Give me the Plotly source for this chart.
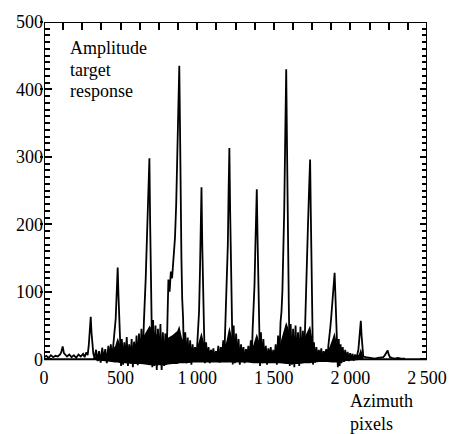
import plotly.graph_objects as go

# Target response along azimuth (pixel index) and its amplitude
azimuth = [
    0, 15, 30, 45, 60, 75, 90, 105, 112, 122, 130, 140, 150, 165, 180, 195, 210, 225, 240, 255,
    265, 275, 285, 292, 298, 305, 310, 316, 322,
    330, 340, 350, 360, 370, 380, 390, 400, 410, 420, 428, 436, 444, 452, 460, 468, 474, 481,
    486, 491, 497, 503,
    508, 516, 524, 532, 540, 548, 556, 564, 572, 580, 588, 596, 604, 612, 620, 628, 636, 644,
    652, 658, 664, 672, 680, 688, 693, 697, 702, 707,
    712, 720, 728, 736, 744, 752, 760, 768, 776, 784, 792, 800, 806, 812, 820, 828, 836, 845,
    855, 863, 870, 876, 883, 888, 892, 897, 902, 908,
    914, 922, 930, 938, 946, 954, 962, 970, 978, 986, 994, 1000, 1006, 1012, 1018, 1023, 1028,
    1033, 1038, 1044, 1050,
    1058, 1066, 1074, 1082, 1090, 1098, 1106, 1114, 1122, 1130, 1138, 1146, 1154, 1162, 1170,
    1176, 1182, 1188, 1194, 1200, 1205, 1210, 1215, 1220, 1226, 1232,
    1238, 1246, 1254, 1262, 1270, 1278, 1286, 1294, 1302, 1310, 1318, 1326, 1334, 1342, 1350,
    1356, 1362, 1368, 1374, 1380, 1385, 1389, 1394, 1399, 1404, 1410,
    1416, 1424, 1432, 1440, 1448, 1456, 1464, 1472, 1480, 1488, 1496, 1504, 1512, 1520, 1528,
    1536, 1544, 1550, 1556, 1562, 1568, 1574, 1581, 1586, 1590, 1594, 1598, 1604,
    1610, 1618, 1626, 1634, 1642, 1650, 1658, 1666, 1674, 1682, 1690, 1698, 1704, 1710, 1716,
    1722, 1730, 1737, 1742, 1746, 1751, 1756,
    1762, 1770, 1778, 1786, 1794, 1802, 1810, 1818, 1826, 1834, 1842, 1850, 1856, 1862, 1868,
    1874, 1880, 1886, 1891, 1897, 1902, 1907, 1912, 1918,
    1924, 1930, 1936, 1942, 1950, 1958, 1966, 1974, 1982, 1990, 1998, 2006, 2014, 2022, 2030,
    2038, 2046, 2052, 2058, 2063, 2068, 2073, 2078, 2084,
    2100, 2120, 2140, 2160, 2180, 2200, 2215, 2225, 2235, 2243, 2250, 2258, 2270, 2290, 2310,
    2330, 2357,
]
amplitude = [
    3, 5, 2, 6, 3, 5, 4, 7, 10, 19, 9, 6, 4, 7, 3, 6, 2, 7, 4, 8,
    3, 10, 6, 20, 38, 63, 40, 18, 8,
    2, 14, -3, 12, -5, 17, 0, 15, -6, 20, -2, 22, 0, 28, 40, 60, 90, 136,
    95, 55, 38, -10,
    30, -8, 25, -4, 33, -10, 22, -6, 30, -12, 26, -5, 35, -9, 38, -4, 45, -6,
    55, 80, 120, 180, 240, 298, 200, 120, 70, -12,
    58, -10, 50, -16, 45, -8, 52, -18, 40, -10, 38, -6, 60, 118, 100, 130, 120, 150,
    180, 230, 290, 360, 435, 340, 230, 150, 90, 60,
    -5, 40, -6, 32, -4, 28, -8, 22, 2, 18, -4, 25, 40, 70, 130, 200, 255,
    170, 90, 50, -6,
    25, -2, 18, -6, 14, 4, 16, -4, 12, 2, 20, -5, 18, 3, 28,
    -4, 42, 60, 100, 170, 250, 313, 220, 130, 75, -8,
    50, -6, 38, -4, 30, -8, 22, 2, 18, -6, 15, 2, 20, -4, 28,
    0, 45, 70, 110, 170, 215, 252, 180, 110, 65, -10,
    40, -6, 30, -4, 20, -8, 16, 2, 18, -5, 14, -2, 22, -8, 35,
    0, 55, 70, 100, 150, 220, 320, 430, 320, 200, 120, 80, -10,
    52, -8, 45, -12, 50, -4, 40, -10, 48, -6, 42, -2, 55, 80, 130,
    190, 250, 296, 210, 130, 70, -8,
    25, -5, 18, -2, 14, 0, 16, -4, 12, 2, 15, -3, 20, 30, 45,
    60, 80, 100, 120, 128, 95, 60, 40, -12,
    30, -10, 22, -6, 18, -4, 14, -2, 11, -3, 9, 0, 8, -2, 7,
    1, 8, 14, 30, 45, 57, 35, 12, 4,
    3, 2, 2, 1, 2, 2, 3, 6, 10, 13, 7, 3, 2, 1, 2,
    1, 1,
]

# Dense clutter band under the response: upper and lower envelopes
clutter_azimuth = [
    320, 350, 400, 440, 465, 481, 500, 530, 580, 630, 660, 690, 715, 750, 790, 810, 840,
    870, 883, 900, 930, 970, 1000, 1028, 1050, 1100, 1160, 1190, 1210, 1235, 1280, 1330,
    1365, 1389, 1410, 1450, 1500, 1540, 1581, 1610, 1660, 1700, 1737, 1760, 1800, 1850,
    1880, 1897, 1915, 1960, 2020, 2055, 2068, 2085,
]
clutter_upper = [
    2, 5, 8, 12, 20, 32, 20, 16, 20, 26, 38, 50, 40, 34, 26, 32, 36,
    42, 50, 32, 18, 10, 18, 40, 18, 9, 12, 26, 48, 26, 14, 9,
    20, 38, 22, 12, 10, 22, 55, 36, 28, 32, 50, 18, 9, 10,
    28, 40, 18, 7, 4, 7, 16, 3,
]
clutter_lower = [
    0, -2, -3, -4, -5, -5, -6, -6, -7, -7, -8, -9, -9, -9, -9, -8, -7,
    -7, -6, -6, -6, -5, -5, -5, -5, -5, -5, -5, -5, -5, -5, -5,
    -6, -6, -6, -6, -6, -6, -7, -7, -7, -6, -6, -5, -4, -4,
    -5, -5, -5, -3, -2, -1, 0, 0,
]

x_ticks = [0, 500, 1000, 1500, 2000, 2500]
x_tick_text = ["0", "500", "1\u2009000", "1\u2009500", "2\u2009000", "2\u2009500"]
top_ticks = list(range(125, 2500, 125))
y_ticks = [0, 100, 200, 300, 400, 500]
y_minor = [v for v in range(10, 500, 10) if v % 100]

X_MAX = 2500
Y_MIN, Y_MAX = -16, 500

serif = '"Liberation Serif", "Times New Roman", Times, serif'
tick_font = dict(family=serif, size=18, color="black")

fig = go.Figure()
fig.add_trace(go.Scatter(
    x=clutter_azimuth + clutter_azimuth[::-1],
    y=clutter_upper + clutter_lower[::-1],
    mode="none", fill="toself", fillcolor="black",
    hoverinfo="skip", showlegend=False,
))
fig.add_trace(go.Scatter(
    x=azimuth, y=amplitude, mode="lines",
    line=dict(color="black", width=1.8),
    hoverinfo="skip", showlegend=False,
))
# empty traces that carry the extra tick axes (top, right, outer left stubs)
fig.add_trace(go.Scatter(x=[None], y=[None], xaxis="x2", yaxis="y2",
                         showlegend=False, hoverinfo="skip"))
fig.add_trace(go.Scatter(x=[None], y=[None], xaxis="x", yaxis="y3",
                         showlegend=False, hoverinfo="skip"))

axis_common = dict(showgrid=False, zeroline=False, showline=False)

fig.update_layout(
    width=459, height=434,
    margin=dict(l=44, r=25, t=17, b=64),
    paper_bgcolor="white", plot_bgcolor="white",
    font=dict(family=serif, color="black"),
    xaxis=dict(range=[0, X_MAX], tickmode="array", tickvals=x_ticks, ticktext=x_tick_text,
               ticks="", ticklabelstandoff=-5, tickfont=tick_font, **axis_common),
    xaxis2=dict(range=[0, X_MAX], overlaying="x", side="top", tickmode="array",
                tickvals=top_ticks, ticks="inside", ticklen=8, tickwidth=1.5,
                tickcolor="black", showticklabels=False, **axis_common),
    yaxis=dict(range=[Y_MIN, Y_MAX], tickmode="array", tickvals=y_ticks,
               ticks="inside", ticklen=8, tickwidth=1.5, tickcolor="black",
               minor=dict(tickmode="array", tickvals=y_minor, ticks="inside",
                          ticklen=6, tickwidth=1.5, tickcolor="black"),
               tickfont=tick_font, **axis_common),
    yaxis2=dict(range=[Y_MIN, Y_MAX], overlaying="y", side="right", tickmode="array",
                tickvals=y_ticks, ticks="inside", ticklen=7, tickwidth=1.5,
                tickcolor="black",
                minor=dict(tickmode="array", tickvals=y_minor, ticks="inside",
                           ticklen=5, tickwidth=1.5, tickcolor="black"),
                showticklabels=False, **axis_common),
    yaxis3=dict(range=[Y_MIN, Y_MAX], overlaying="y", side="left", tickmode="array",
                tickvals=y_ticks[1:], ticks="outside", ticklen=3, tickwidth=1.5,
                tickcolor="black", showticklabels=False, **axis_common),
)

# frame drawn from the zero line up to the top of the amplitude scale
frame = dict(type="line", xref="x", yref="y", layer="above",
             line=dict(color="black", width=2))
fig.add_shape(x0=0, x1=0, y0=0, y1=Y_MAX, **frame)
fig.add_shape(x0=X_MAX, x1=X_MAX, y0=0, y1=Y_MAX, **frame)
fig.add_shape(x0=0, x1=X_MAX, y0=Y_MAX, y1=Y_MAX, **frame)
fig.add_shape(x0=0, x1=X_MAX, y0=0, y1=0, **frame)

label_font = dict(family=serif, size=18, color="black")
labels = [
    ("Amplitude", 0.0615, 0.926),
    ("target", 0.0615, 0.861),
    ("response", 0.0615, 0.802),
    ("Azimuth", 0.795, -0.088),
    ("pixels", 0.795, -0.156),
]
for text, px, py in labels:
    fig.add_annotation(text=text, x=px, y=py, xref="paper", yref="paper",
                       xanchor="left", yanchor="middle", showarrow=False, font=label_font)

fig.write_html("out.html")
